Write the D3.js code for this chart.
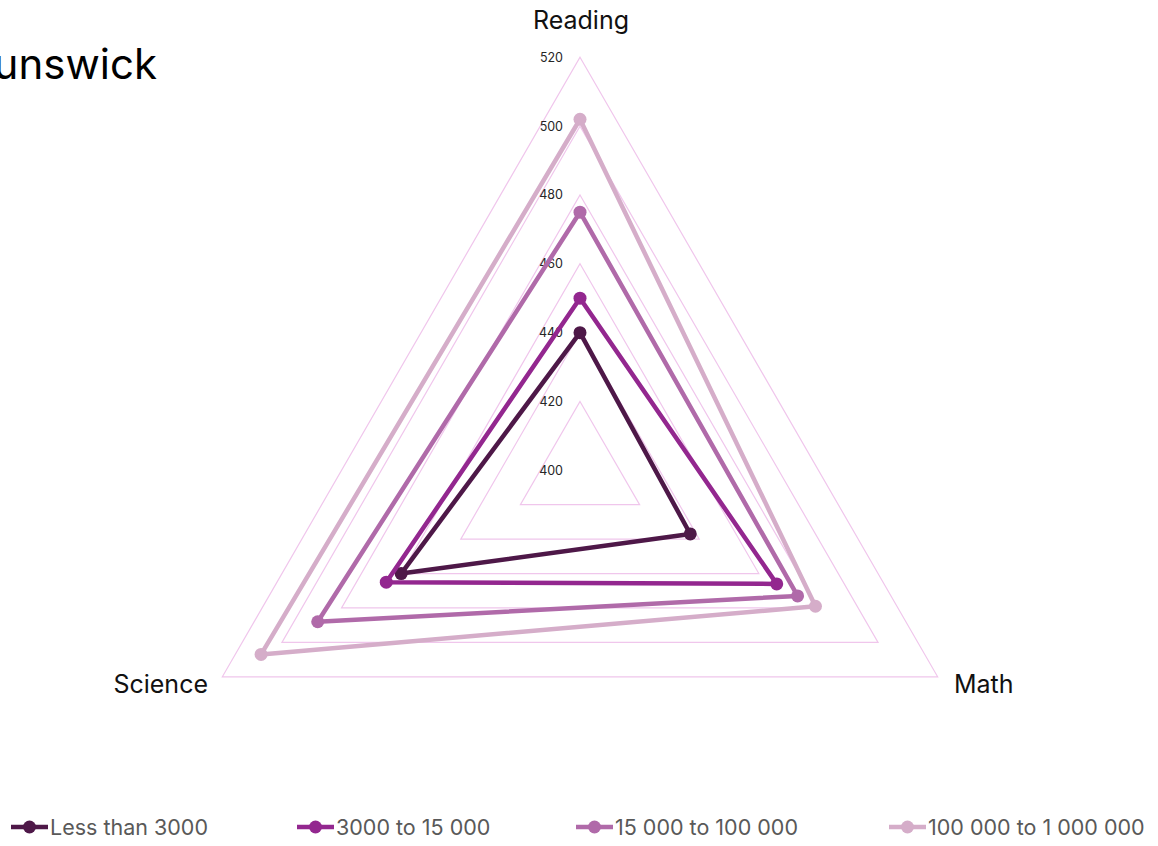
<!DOCTYPE html>
<html>
<head>
<meta charset="utf-8">
<script src="https://cdn.jsdelivr.net/npm/d3@7"></script>
<style>
  html, body { margin: 0; padding: 0; background: #fff; }
  svg { display: block; font-family: Inter, "Open Sans", sans-serif; }
</style>
</head>
<body>
<svg id="chart" width="1158" height="846"></svg>
<script>
// Subjects (radar axes) and score ticks
const subjects = ["Reading", "Math", "Science"];
const tickValues = [400, 420, 440, 460, 480, 500, 520];

// Community size groups
const groups = ["Less than 3000", "3000 to 15 000", "15 000 to 100 000", "100 000 to 1 000 000"];
const colors = ["#4e1848", "#93278f", "#b06aa9", "#d5adc9"];

// Average scores per group: Reading, Math, Science
const lessThan3000 = [440, 437, 460];
const from3000To15000 = [450, 466, 465];
const from15000To100000 = [475, 473, 488];
const from100000To1000000 = [502, 479, 507];
const seriesValues = [lessThan3000, from3000To15000, from15000To100000, from100000To1000000];

const svg = d3.select("#chart");
const cx = 580, cy = 470.3, R = 413;

const r = d3.scaleLinear().domain([400, 520]).range([0, R]);
// Reading points up, Math lower right, Science lower left
const angle = d3.scaleBand().domain(subjects).range([-Math.PI / 2, 1.5 * Math.PI]).paddingInner(0).align(0);
const pt = (s, v) => [cx + r(v) * Math.cos(angle(s)), cy + r(v) * Math.sin(angle(s))];

// Title (starts beyond the left edge)
svg.append("text")
  .attr("x", 157).attr("y", 79)
  .attr("text-anchor", "end")
  .attr("font-size", 42)
  .attr("fill", "#000")
  .text("New Brunswick");

// Grid triangles
const grid = svg.append("g");
tickValues.filter(t => t > 400).forEach(t => {
  grid.append("polygon")
    .attr("points", subjects.map(s => pt(s, t).join(",")).join(" "))
    .attr("fill", "none")
    .attr("stroke", "#f0c6ec")
    .attr("stroke-width", 1.2);
});

// Tick labels along the Reading axis
svg.append("g").selectAll("text")
  .data(tickValues)
  .join("text")
  .attr("x", cx - 17)
  .attr("y", d => pt("Reading", d)[1])
  .attr("dy", "0.35em")
  .attr("text-anchor", "end")
  .attr("font-size", 12.5)
  .attr("fill", "#262626")
  .text(d => d);

// Axis labels
const axisLabelPos = {
  Reading: { x: cx + 1, y: 20, anchor: "middle" },
  Math: { x: 954, y: 684, anchor: "start" },
  Science: { x: 208, y: 684, anchor: "end" }
};
svg.append("g").selectAll("text")
  .data(subjects)
  .join("text")
  .attr("x", d => axisLabelPos[d].x)
  .attr("y", d => axisLabelPos[d].y)
  .attr("dy", "0.35em")
  .attr("text-anchor", d => axisLabelPos[d].anchor)
  .attr("font-size", 25)
  .attr("fill", "#111")
  .text(d => d);

// Series polygons and markers
const line = d3.line().curve(d3.curveLinearClosed);
const series = svg.append("g");
seriesValues.forEach((vals, i) => {
  const pts = subjects.map((s, j) => pt(s, vals[j]));
  series.append("path")
    .attr("d", line(pts))
    .attr("fill", "none")
    .attr("stroke", colors[i])
    .attr("stroke-width", 4.5)
    .attr("stroke-linejoin", "round");
  series.selectAll(null)
    .data(pts)
    .join("circle")
    .attr("cx", d => d[0])
    .attr("cy", d => d[1])
    .attr("r", 6.5)
    .attr("fill", colors[i]);
});

// Legend
const legendTextX = [50, 336, 615, 928];
const legendY = 827;
const legend = svg.append("g");
groups.forEach((g, i) => {
  const x1 = legendTextX[i] - 2;
  legend.append("line")
    .attr("x1", x1 - 37).attr("x2", x1)
    .attr("y1", legendY).attr("y2", legendY)
    .attr("stroke", colors[i]).attr("stroke-width", 4.5);
  legend.append("circle")
    .attr("cx", x1 - 18.5).attr("cy", legendY).attr("r", 6.5)
    .attr("fill", colors[i]);
  legend.append("text")
    .attr("x", legendTextX[i]).attr("y", legendY)
    .attr("dy", "0.35em")
    .attr("font-size", 21.5)
    .attr("fill", "#595959")
    .text(g);
});
</script>
</body>
</html>
